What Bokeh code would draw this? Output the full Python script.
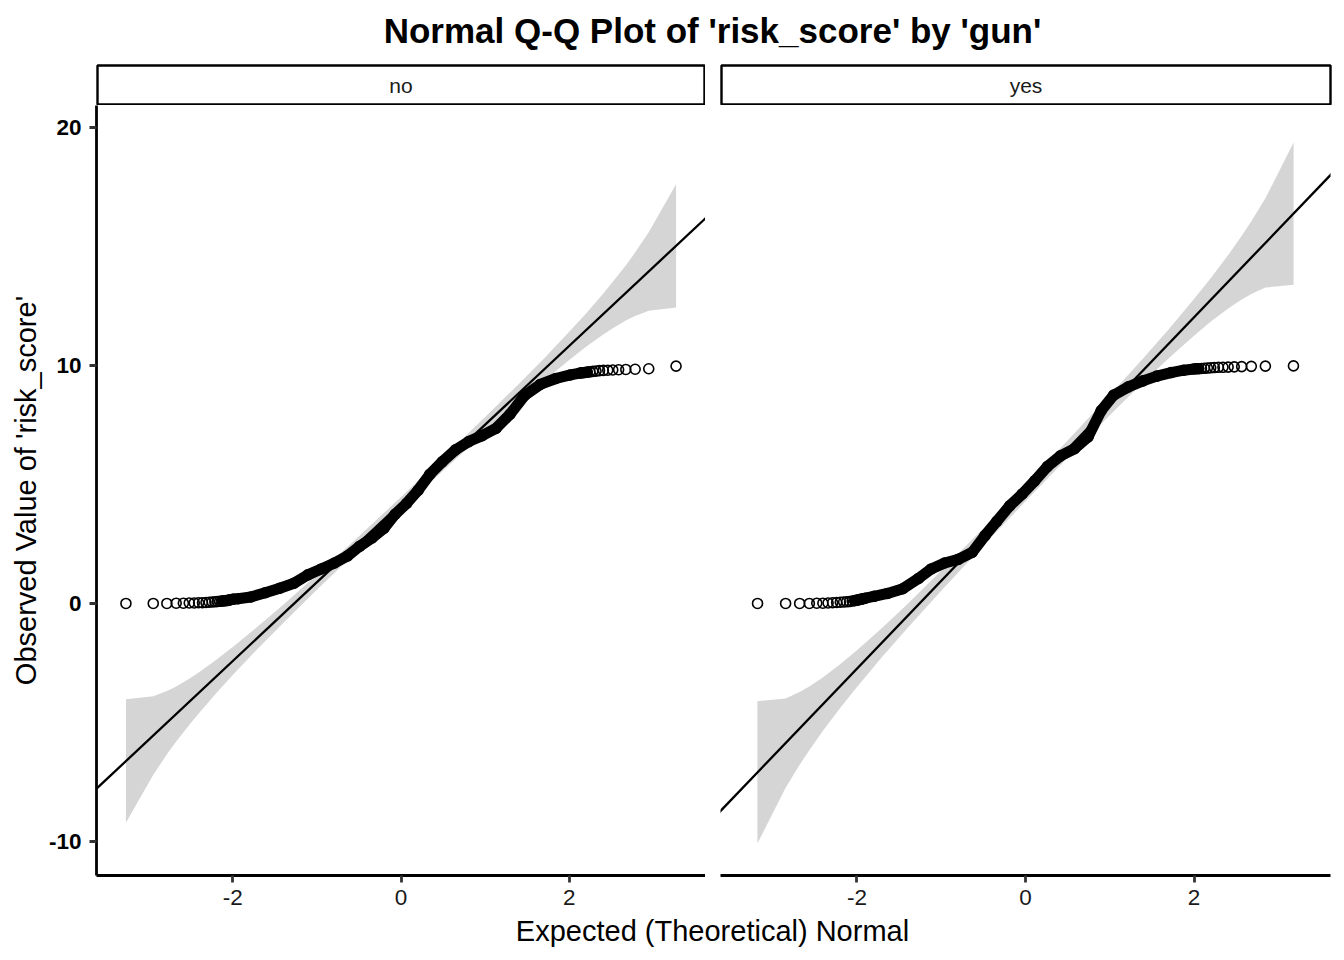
from statistics import NormalDist
from bokeh.plotting import figure
from bokeh.layouts import column, row
from bokeh.models import Range1d, FixedTicker, Slope
from bokeh.embed import file_html
from bokeh.resources import INLINE
from bokeh.core.properties import value

FONT = "Liberation Sans"
TITLE = "Normal Q-Q Plot of 'risk_score' by 'gun'"
X_LABEL = "Expected (Theoretical) Normal"
Y_LABEL = "Observed Value of 'risk_score'"
panel_names = ["no", "yes"]
x_ticks = [-2, 0, 2]
x_tick_labels = ["-2", "0", "2"]
y_ticks = [-10, 0, 10, 20]
y_tick_labels = ["-10", "0", "10", "20"]

# ---- group "no" (n = 930) : sorted observed values at given ranks ----
n_no = 930
rank_no = list(range(1, 21)) + [22, 25, 35, 50, 70, 95, 125, 160, 200, 245, 290, 340, 390,
                                440, 490, 540, 590, 640, 690, 735, 775, 810, 840, 865, 885,
                                900, 910] + list(range(915, 931))
obs_no = [0, 0, 0, 0.01, 0.01, 0.02, 0.02, 0.03, 0.03, 0.04, 0.05, 0.06, 0.07, 0.08, 0.09,
          0.10, 0.11, 0.12, 0.13, 0.15,
          0.18, 0.20, 0.27, 0.45, 0.64, 0.85, 1.20, 1.45, 1.70, 2.00, 2.40, 2.75, 3.15,
          3.75, 4.20, 4.75, 5.42, 5.95, 6.45, 6.80, 7.05, 7.35, 7.95, 8.75, 9.20,
          9.45, 9.60,
          9.68, 9.69, 9.70, 9.72, 9.73, 9.75, 9.76, 9.78, 9.79, 9.80, 9.81, 9.82, 9.83,
          9.84, 9.86, 9.97]
line_no = [4.20, 3.31]          # intercept, slope of the Q-Q reference line
band_q_no = [-3.27, -2.945, -2.783, -2.672, -2.518, -2.4, -2.2, -2.0, -1.7, -1.4, -1.0, -0.5,
             0.0, 0.5, 1.0, 1.4, 1.7, 2.0, 2.2, 2.4, 2.518, 2.672, 2.783, 2.945, 3.27]
band_lo_no = [-9.21, -7.20, -6.34, -5.80, -5.11, -4.60, -3.78, -3.01, -1.89, -0.82, 0.57, 2.27,
              3.93, 5.58, 7.19, 8.45, 9.36, 10.23, 10.78, 11.29, 11.56, 11.89, 12.08, 12.30, 12.43]
band_hi_no = [-4.03, -3.90, -3.68, -3.49, -3.16, -2.89, -2.38, -1.83, -0.96, -0.05, 1.21, 2.82,
              4.47, 6.13, 7.83, 9.22, 10.29, 11.41, 12.18, 13.00, 13.51, 14.20, 14.74, 15.60, 17.61]

# ---- group "yes" (n = 680) ----
n_yes = 680
rank_yes = list(range(1, 21)) + [25, 35, 50, 70, 90, 115, 145, 180, 215, 250, 290, 330, 370,
                                 410, 450, 490, 525, 555, 580, 605, 625, 640, 652, 660] + \
           list(range(665, 681))
obs_yes = [0, 0, 0, 0, 0.01, 0.01, 0.02, 0.03, 0.04, 0.05, 0.06, 0.07, 0.08, 0.10, 0.12,
           0.14, 0.16, 0.18, 0.20, 0.22,
           0.30, 0.42, 0.62, 1.05, 1.45, 1.70, 1.85, 2.15, 2.85, 3.45, 4.10, 4.60, 5.15,
           5.75, 6.20, 6.50, 7.00, 8.10, 8.75, 9.10, 9.35, 9.55, 9.70, 9.80,
           9.85, 9.86, 9.86, 9.87, 9.88, 9.89, 9.90, 9.91, 9.92, 9.92, 9.93, 9.94, 9.95,
           9.96, 9.97, 9.98]
line_yes = [4.64, 3.69]
band_q_yes = [-3.182, -2.847, -2.681, -2.566, -2.406, -2.2, -2.0, -1.7, -1.4, -1.0, -0.5,
              0.0, 0.5, 1.0, 1.4, 1.7, 2.0, 2.2, 2.406, 2.566, 2.681, 2.847, 3.182]
band_lo_yes = [-10.09, -7.74, -6.78, -6.17, -5.36, -4.39, -3.51, -2.24, -1.03, 0.53, 2.43,
               4.29, 6.12, 7.91, 9.30, 10.30, 11.25, 11.84, 12.39, 12.77, 13.00, 13.27, 13.39]
band_hi_yes = [-4.11, -3.99, -3.72, -3.49, -3.11, -2.56, -1.97, -1.02, -0.02, 1.37, 3.16,
               4.99, 6.85, 8.75, 10.31, 11.52, 12.79, 13.67, 14.64, 15.45, 16.06, 17.02, 19.37]

# ranks where points merge into a solid trace
dense_no = (16, 918)
dense_yes = (15, 667)

BAND_COLOR = "#d5d5d5"
TOTAL_W = 1338
CENTER_X = 712

x_range_vals = (-3.62, 3.62)
y_range_vals = (-11.43, 20.92)


def theo(ranks, n):
    nd = NormalDist()
    return [nd.inv_cdf((r - 0.5) / n) for r in ranks]


def text_fig(w, h, txt, x, y, size, style="normal", color="black", outline=False,
             mb_left=0, mb_right=0, mb_top=0, mb_bottom=0):
    f = figure(width=w, height=h, x_range=Range1d(0, 1), y_range=Range1d(0, 1),
               x_axis_type=None, y_axis_type=None, toolbar_location=None,
               output_backend="svg", min_border_left=mb_left, min_border_right=mb_right,
               min_border_top=mb_top, min_border_bottom=mb_bottom)
    f.grid.visible = False
    if outline:
        f.outline_line_color = "black"
        f.outline_line_width = 2.4
    else:
        f.outline_line_color = None
    f.text(x=[x], y=[y], text=[txt], text_font=value(FONT), text_font_size=size,
           text_font_style=style, text_color=color, text_align="center",
           text_baseline="middle")
    return f


yr = Range1d(*y_range_vals)


def style_axis(a, ticks, labels, bold):
    a.ticker = FixedTicker(ticks=ticks)
    a.major_label_overrides = {t: l for t, l in zip(ticks, labels)}
    a.axis_line_width = 2.8
    a.axis_line_color = "black"
    a.major_tick_line_width = 2.8
    a.major_tick_line_color = "#333333"
    a.major_tick_out = 7
    a.major_tick_in = 0
    a.minor_tick_out = 0
    a.minor_tick_in = 0
    a.major_label_standoff = 7
    a.major_label_text_font = FONT
    a.major_label_text_font_size = "22.5px"
    if bold:
        a.major_label_text_font_style = "bold"
        a.major_label_text_color = "black"
    else:
        a.major_label_text_color = "#1a1a1a"


def panel(w, mb_left, mb_right, ranks, obs, n, dense, line, bq, blo, bhi, show_y):
    p = figure(width=w, height=810, x_range=Range1d(*x_range_vals), y_range=yr,
               toolbar_location=None, output_backend="svg",
               min_border_left=mb_left, min_border_right=mb_right,
               min_border_top=0, min_border_bottom=40)
    p.grid.visible = False
    p.outline_line_color = None
    p.background_fill_color = "white"
    p.border_fill_color = "white"

    p.varea(x=bq, y1=blo, y2=bhi, fill_color=BAND_COLOR, fill_alpha=1.0)

    xs = theo(ranks, n)
    dx = [x for x, r in zip(xs, ranks) if dense[0] <= r <= dense[1]]
    dy = [y for y, r in zip(obs, ranks) if dense[0] <= r <= dense[1]]
    p.line(dx, dy, line_color="black", line_width=11, line_cap="round", line_join="round")
    p.scatter(xs, obs, marker="circle", size=10, fill_color=None, line_color="black",
              line_width=1.6)

    p.add_layout(Slope(gradient=line[1], y_intercept=line[0], line_color="black",
                       line_width=2.3))

    style_axis(p.xaxis[0], x_ticks, x_tick_labels, False)
    ay = p.yaxis[0]
    if show_y:
        style_axis(ay, y_ticks, y_tick_labels, True)
        ay.major_label_standoff = 8
        ay.axis_label = Y_LABEL
        ay.axis_label_text_font = FONT
        ay.axis_label_text_font_size = "29px"
        ay.axis_label_text_font_style = "normal"
        ay.axis_label_text_color = "black"
        ay.axis_label_standoff = 4
    else:
        ay.visible = False
    return p


title_fig = text_fig(TOTAL_W, 64, TITLE, CENTER_X / TOTAL_W, 34 / 64, "35px", style="bold")
strip1 = text_fig(705, 41, panel_names[0], 0.5, 0.5, "21px", color="#1a1a1a", outline=True,
                  mb_left=97, mb_right=1, mb_top=1, mb_bottom=1)
strip2 = text_fig(633, 41, panel_names[1], 0.5, 0.5, "21px", color="#1a1a1a", outline=True,
                  mb_left=16, mb_right=8, mb_top=1, mb_bottom=1)

p1 = panel(705, 96, 0, rank_no, obs_no, n_no, dense_no, line_no,
           band_q_no, band_lo_no, band_hi_no, True)
p2 = panel(633, 15, 8, rank_yes, obs_yes, n_yes, dense_yes, line_yes,
           band_q_yes, band_lo_yes, band_hi_yes, False)

xlab_fig = text_fig(TOTAL_W, 36, X_LABEL, CENTER_X / TOTAL_W, 21 / 36, "29px")

layout = column(title_fig, row(strip1, strip2), row(p1, p2), xlab_fig)

open("out.html", "w").write(file_html(layout, INLINE))
